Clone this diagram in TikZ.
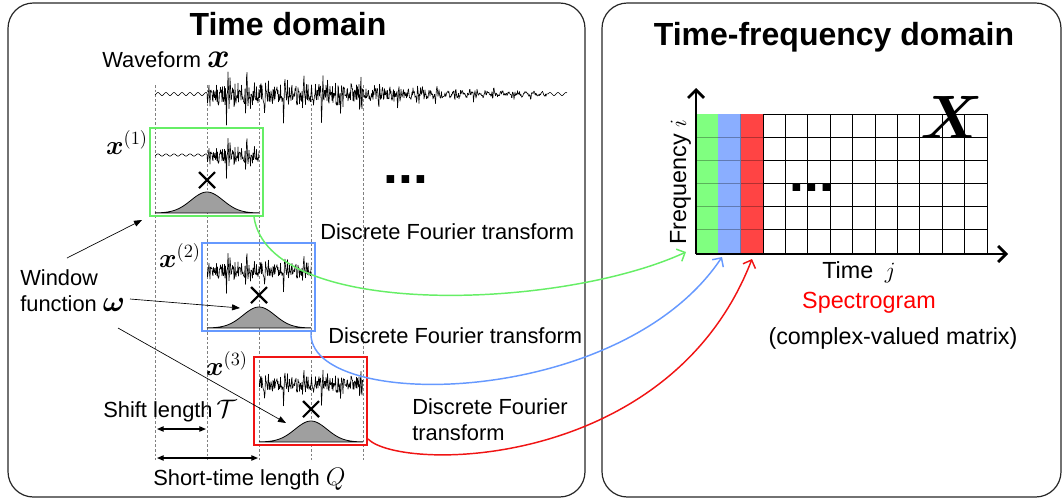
\documentclass[tikz,border=0pt]{standalone}
\usepackage{fix-cm}
\usepackage{amsmath}
\usepackage[no-math]{fontspec}
\setmainfont{Liberation Sans}
\usepackage{tikz}
\usetikzlibrary{calc,arrows.meta,positioning}

\definecolor{grnline}{RGB}{102,238,102}
\definecolor{bluline}{RGB}{102,153,255}
\definecolor{redline}{RGB}{240,20,20}
\definecolor{grnfill}{RGB}{128,255,128}
\definecolor{blufill}{RGB}{138,174,255}
\definecolor{redfill}{RGB}{255,68,68}

\pgfmathdeclarefunction{burst}{1}{%
  \pgfmathsetmacro\bm{mod(max(#1-207,0),19)}%
  \pgfmathparse{(#1>207)*(#1<548)*min(1,max(#1-203,0)/12)*25*exp(-max(#1-340,0)/105)*(0.42*rand+1.15*exp(-\bm/3)*sin(150*\bm))}%
}

\begin{document}
\begin{tikzpicture}[x=0.75pt,y=-0.75pt,
  panel/.style={draw=black!85,line width=0.9pt,rounded corners=19pt},
  lbl/.style={inner sep=0pt,font={\fontsize{16.4}{19.5}\selectfont}},
  rlbl/.style={inner sep=0pt,font={\fontsize{17.5}{21}\selectfont}},
  ttl/.style={inner sep=0pt,font={\fontsize{24}{28}\selectfont\bfseries}},
  winbox/.style={draw=#1,line width=1.5pt,minimum width=84.75pt,minimum height=66pt,inner sep=0pt},
  guide/.style={gray,line width=0.5pt,dash pattern=on 2pt off 1.5pt},
  wave/.style={line width=0.45pt,line join=round},
  ptr/.style={line width=0.5pt,-{Triangle[length=6pt,width=4.5pt]}},
  span/.style={line width=0.9pt,{Triangle[length=5pt,width=4pt]}-{Triangle[length=5pt,width=4pt]}},
  dft/.style={line width=1.1pt,-{Straight Barb[length=5pt,width=10pt]}},
  tfaxis/.style={line width=2pt,-{Straight Barb[length=6pt,width=12pt]}},
  cell/.style={line width=0.7pt}
]
\useasboundingbox (0,0) rectangle (1064,501);

\draw[panel] (8,3) rectangle (585,497);
\draw[panel] (602,3) rectangle (1061,497);

\node[ttl,anchor=base] (tdom) at (288,35) {Time domain};
\node[ttl,anchor=base] (tfdom) at (834,45) {Time-frequency domain};

\foreach \x in {155,207,...,363}
  \draw[guide] (\x,85) -- (\x,460);

\node[lbl,anchor=base west] (wlbl) at (102,67) {Waveform {\fontsize{26}{26}\selectfont$\boldsymbol{x}$}};
\pgfmathsetseed{7}
\draw[wave,shift={(0,94)}] plot[domain=155:567,samples=825] (\x,{1.5*sin(45*mod(\x,8))+burst(\x)});

\foreach \a/\e/\t/\lc/\n in {155/259/128/grnline/1,207/311/243/bluline/2,259/363/357/redline/3}{
  \begin{scope}
    \clip (\a,\t+2) rectangle (\e,\t+55);
    \pgfmathsetseed{7}
    \draw[wave,shift={(0,\t+27)},yscale=0.75] plot[domain=155:567,samples=825] (\x,{1.5*sin(45*mod(\x,8))+burst(\x)});
  \end{scope}
  \draw[line width=1.6pt] (\a+44,\t+44) -- (\a+60,\t+60) (\a+44,\t+60) -- (\a+60,\t+44);
  \filldraw[fill=gray!75,line width=0.6pt] plot[domain=\a:\e,samples=60] (\x,{\t+85-21*exp(-((\x-\a-52)^2)/512)}) -- cycle;
  \coordinate (g\n) at (\a+52,\t+64);
  \node[winbox=\lc] (w\n) at (\a+51.5,\t+44) {};
}

\node[lbl,anchor=base east] (x1) at (148,154) {\fontsize{20}{20}\selectfont$\boldsymbol{x}^{(1)}$};
\node[lbl,anchor=base east] (x2) at (201,267) {\fontsize{20}{20}\selectfont$\boldsymbol{x}^{(2)}$};
\node[lbl,anchor=base east] (x3) at (248,375) {\fontsize{20}{20}\selectfont$\boldsymbol{x}^{(3)}$};

\node[inner sep=0pt,font={\fontsize{40}{40}\selectfont\bfseries}] (dotsL) at (406,180) {...};

\node[lbl,anchor=base west] (dft1) at (320,239) {Discrete Fourier transform};
\node[lbl,anchor=base west] (dft2) at (328,343) {Discrete Fourier transform};
\node[lbl,align=left,anchor=north west] (dft3) at (412,398) {Discrete Fourier\\transform};

\node[lbl,align=left,anchor=north west] (winlbl) at (20,269) {Window\\function {\fontsize{22}{22}\selectfont$\boldsymbol{\omega}$}};
\coordinate (wa1) at (67,258);
\coordinate (wa2) at (130,299);
\coordinate (wa3) at (118,328);
\draw[ptr] (wa1) -- ($(w1.south west)+(-7,3)$);
\draw[ptr] (wa2) -- ($(g2)+(-19,1)$);
\draw[ptr] (wa3) -- ($(g3)+(-25,2)$);

\node[lbl,anchor=base west] (shift) at (103,417) {Shift length\,{\fontsize{19}{19}\selectfont$\mathcal{T}$}};
\node[lbl,anchor=base west] (short) at (153,485) {Short-time length {\fontsize{19}{19}\selectfont$Q$}};
\coordinate (t0) at (157,429);
\coordinate (t1) at (206,429);
\coordinate (q0) at (157,458);
\coordinate (q1) at (258,458);
\draw[span] (t0) -- (t1);
\draw[span] (q0) -- (q1);

% spectrogram
\foreach \k/\f in {0/grnfill,1/blufill,2/redfill}{
  \fill[\f] (696+\k*22.385,114) rectangle (718.385+\k*22.385,253);
  \foreach \r in {1,...,5}
    \draw[cell,\f!70!black] (696+\k*22.385,114+\r*23.17) -- ++(22.385,0);
  \draw[cell,\f!70!black] (718.385+\k*22.385,114) -- ++(0,139);
}
\foreach \i in {3,...,13}
  \draw[cell] (696+\i*22.385,114) -- ++(0,139);
\foreach \r in {0,...,5}
  \draw[cell] (763.155,114+\r*23.17) -- (987,114+\r*23.17);

\coordinate (origin) at (696,254);
\coordinate (ytop) at (696,88);
\coordinate (xend) at (1008,254);
\draw[tfaxis] (origin) -- (ytop);
\draw[tfaxis] (origin) -- (xend);

\node[anchor=base,inner sep=0pt] (bigX) at (952,138) {\fontsize{46}{46}\selectfont$\boldsymbol{X}$};
\node[inner sep=0pt,font={\fontsize{40}{40}\selectfont\bfseries}] (dotsR) at (812,188) {...};

\node[rlbl,rotate=90,anchor=base] (freq) at (686,182) {Frequency $i$};
\node[rlbl,anchor=base] (tlbl) at (859,278) {Time\enspace$j$};
\node[rlbl,anchor=base,text=red] (spec) at (869,308) {Spectrogram};
\node[rlbl,anchor=base] (cvm) at (893,344) {(complex-valued matrix)};

\coordinate (tipG) at (686,252);
\coordinate (tipB) at (722,257);
\coordinate (tipR) at (752,259);
\draw[dft,grnline] ($(w1.south east)+(-10,0)$) .. controls +(15,103) and +(-126,58) .. (tipG);
\draw[dft,bluline] ($(w2.south east)+(-5,0)$) .. controls +(-5,80) and +(-102,153) .. (tipB);
\draw[dft,redline] ($(w3.south east)+(0,-7)$) .. controls +(33,33) and +(-82,212) .. (tipR);
\end{tikzpicture}
\end{document}
